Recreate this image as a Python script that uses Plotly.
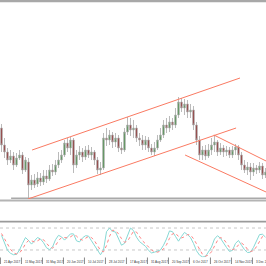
import plotly.graph_objects as go

W, H = 266, 266

# ---- data (bar index, price units) ----
bars = list(range(89))
opens = [72,55,48,40,44,35,42,45,30,38,15,20,16,22,18,24,21,30,28,35,40,45,57,52,60,35,45,48,43,50,
         45,48,40,30,32,62,60,65,58,62,52,50,68,75,70,72,62,60,55,60,52,48,52,60,65,75,72,78,75,85,
         98,92,96,88,90,75,60,45,50,44,50,55,58,48,52,48,50,45,50,53,45,35,30,33,28,32,30,34,25]
highs = [76,62,52,50,48,47,50,48,43,42,25,26,28,27,30,30,35,36,40,48,50,60,62,63,62,50,54,52,54,55,
         53,50,43,38,67,72,70,68,67,65,58,72,83,82,80,75,67,65,64,63,56,58,65,72,80,82,84,82,92,103,
         102,101,100,96,94,78,64,54,55,56,62,65,60,57,55,54,53,54,56,55,48,40,38,37,37,35,38,37,32]
lows = [48,42,35,37,30,33,40,26,28,2,10,12,13,14,15,17,19,24,25,32,37,43,48,45,27,32,40,38,40,42,
        40,35,26,25,30,54,55,52,53,48,46,48,65,64,62,58,54,50,50,48,45,44,50,58,62,67,68,70,72,82,
        88,85,82,82,70,55,40,40,40,42,45,48,44,45,43,44,42,42,45,40,30,27,25,20,24,26,27,21,22]
closes = [55,48,40,44,35,42,45,30,40,15,20,15,22,18,24,21,30,28,35,40,45,57,52,60,35,45,48,43,50,45,
          48,40,30,32,62,60,65,58,62,52,50,68,75,70,72,62,60,55,60,52,48,52,60,65,75,72,78,75,85,98,
          92,96,88,90,75,60,45,50,44,50,55,58,48,52,48,50,45,50,53,45,35,30,33,28,32,30,34,25,28]

stoch_k = [60,38,19,11,7,8,20,38,54,46,36,45,54,50,40,26,21,28,48,60,56,47,55,64,64,45,42,53,59,58,
           45,32,18,7,20,70,80,71,69,52,33,38,60,80,73,55,43,37,30,19,12,14,16,20,33,50,72,70,57,44,
           57,68,62,54,38,18,6,1,2,14,28,50,59,52,38,27,16,19,38,46,33,21,13,14,27,46,62,63,55]
stoch_d = [65,50,35,22,12,9,12,22,37,46,45,42,45,50,48,38,29,25,32,45,54,54,53,56,61,58,50,47,51,57,
           54,45,32,19,15,32,57,74,73,64,51,41,44,59,71,69,57,45,37,29,20,15,14,17,23,34,52,64,66,57,
           53,56,62,61,51,37,21,8,3,6,15,31,46,54,50,39,27,21,24,34,39,33,22,16,18,29,45,57,60]

# trend lines (bar index, price)
up_upper_x, up_upper_y = [10.2, 79.5], [50, 122]
up_lower_x, up_lower_y = [8.8, 78.2], [1, 72]
dn_upper_x, dn_upper_y = [70.8, 88.2], [65, 39]
dn_lower_x, dn_lower_y = [61.2, 88.2], [45, 8]
support_x, support_y = [3.2, 88.2], [1.5, 1.5]

date_pos = [0, 7, 14, 21, 28, 35, 42, 49, 56, 63, 70, 77, 84]
date_labels = ["21 Apr 2017", "11 May 2017", "31 May 2017", "20 Jun 2017", "10 Jul 2017",
               "28 Jul 2017", "17 Aug 2017", "31 Aug 2017", "20 Sep 2017", "6 Oct 2017",
               "26 Oct 2017", "14 Nov 2017", "3 Dec 2017"]

LINE = "#fa7a62"

fig = go.Figure()
fig.add_trace(go.Candlestick(
    x=bars, open=opens, high=highs, low=lows, close=closes,
    increasing=dict(fillcolor="#3f8f3f", line=dict(color="#a8a8a8", width=0.8)),
    decreasing=dict(fillcolor="#8b1c1c", line=dict(color="#a8a8a8", width=0.8)),
    whiskerwidth=0, showlegend=False, xaxis="x", yaxis="y"))

fig.add_trace(go.Scatter(x=support_x, y=support_y, mode="lines",
                         line=dict(color="#a9a9a9", width=2), showlegend=False))
for lx, ly in [(up_upper_x, up_upper_y), (up_lower_x, up_lower_y),
               (dn_upper_x, dn_upper_y), (dn_lower_x, dn_lower_y)]:
    fig.add_trace(go.Scatter(x=lx, y=ly, mode="lines", line=dict(color=LINE, width=1),
                             showlegend=False, hoverinfo="skip"))

fig.add_trace(go.Scatter(x=bars, y=stoch_k, mode="lines", line=dict(color="#86d8d4", width=1),
                         showlegend=False, xaxis="x2", yaxis="y2"))
fig.add_trace(go.Scatter(x=bars, y=stoch_d, mode="lines",
                         line=dict(color="#ff8484", width=1, dash="dot"),
                         showlegend=False, xaxis="x2", yaxis="y2"))

def py(p):  # pixel row -> paper
    return (H - p) / H

shapes = [
    dict(type="rect", xref="paper", yref="paper", x0=0, x1=1, y0=py(2.3), y1=1,
         fillcolor="#a8a8a8", line=dict(width=0), layer="above"),
    dict(type="rect", xref="paper", yref="paper", x0=0, x1=1, y0=py(201.5), y1=py(199.5),
         fillcolor="#b4b4b4", line=dict(width=0)),
    dict(type="rect", xref="paper", yref="paper", x0=0, x1=1, y0=py(222.5), y1=py(220.8),
         fillcolor="#9a9a9a", line=dict(width=0)),
]
for lvl in (80, 20):
    shapes.append(dict(type="line", xref="paper", yref="y2", x0=0, x1=1, y0=lvl, y1=lvl,
                       line=dict(color="#c8c8c8", width=1, dash="dot"), layer="below"))

annotations = []
for p, t in zip(date_pos, date_labels):
    annotations.append(dict(x=p + 0.1, y=py(261.5), xref="x2", yref="paper", text=t,
                            showarrow=False, xanchor="left", yanchor="middle",
                            font=dict(size=3.0, color="#333333",
                                      family="Liberation Sans Narrow, Liberation Sans")))
    shapes.append(dict(type="line", xref="x2", yref="paper", x0=p - 0.35, x1=p - 0.35,
                       y0=py(264), y1=py(257.5), line=dict(color="#555555", width=0.7)))

xr = [-0.5, 88.17]
fig.update_layout(
    width=W, height=H, margin=dict(l=0, r=0, t=0, b=0),
    paper_bgcolor="white", plot_bgcolor="white", showlegend=False,
    xaxis=dict(domain=[0, 1], range=xr, visible=False, rangeslider=dict(visible=False),
               anchor="y"),
    yaxis=dict(domain=[py(199), py(2)], range=[1, 198], visible=False),
    xaxis2=dict(domain=[0, 1], range=xr, visible=False, anchor="y2", matches="x"),
    yaxis2=dict(domain=[py(257.3), py(220.7)], range=[0, 100], visible=False),
    shapes=shapes, annotations=annotations,
)

fig.write_html("out.html")
